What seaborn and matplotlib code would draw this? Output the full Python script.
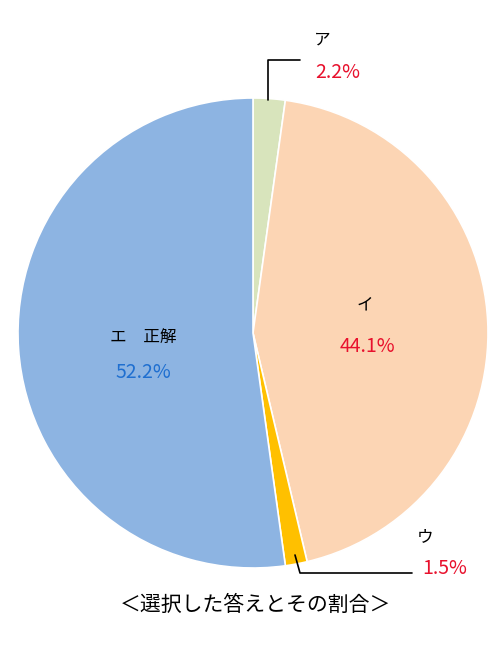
import matplotlib
matplotlib.use('Agg')
import matplotlib.pyplot as plt
import seaborn as sns

labels = ['ア', 'イ', 'ウ', 'エ　正解']
values = [2.2, 44.1, 1.5, 52.2]
colors = ['#d8e4bc', '#fcd5b4', '#ffc000', '#8db4e2']
pct_colors = ['#e8112d', '#e8112d', '#e8112d', '#1f6fd0']

sns.set_theme(style='white')
plt.rcParams['font.family'] = ['Noto Sans CJK JP', 'DejaVu Sans']

W, H = 500, 660
fig = plt.figure(figsize=(5, 6.6), dpi=100)
cx, cy, r = 253, 333, 235
ax = fig.add_axes([(cx - r) / W, (H - cy - r) / H, 2 * r / W, 2 * r / H])
ax.pie(values, colors=colors, startangle=90, counterclock=False, radius=1,
       wedgeprops=dict(edgecolor='white', linewidth=1.2))
ax.set_xlim(-1, 1)
ax.set_ylim(-1, 1)
ax.set_aspect('equal')
ax.axis('off')

def ft(px, py, s, color='black', size=13):
    fig.text(px / W, 1 - py / H, s, color=color, fontsize=size, ha='center', va='center')

def fl(xs, ys):
    fig.add_artist(plt.Line2D([x / W for x in xs], [1 - y / H for y in ys],
                              color='black', lw=1.2, transform=fig.transFigure))

# label positions (pixels)
lab_pos = [(322, 40), (365, 305), (425, 537), (143, 337)]
pct_pos = [(338, 72), (367, 347), (445, 568), (143, 372)]
for lab, v, c, lp, pp in zip(labels, values, pct_colors, lab_pos, pct_pos):
    ft(*lp, lab, size=12)
    ft(*pp, f'{v}%', color=c, size=14)

fl([268, 268, 300], [100, 60, 60])
fl([295, 300, 412], [555, 573, 573])

ft(255, 605, '＜選択した答えとその割合＞', size=15)

fig.savefig('out.png', dpi=100)
